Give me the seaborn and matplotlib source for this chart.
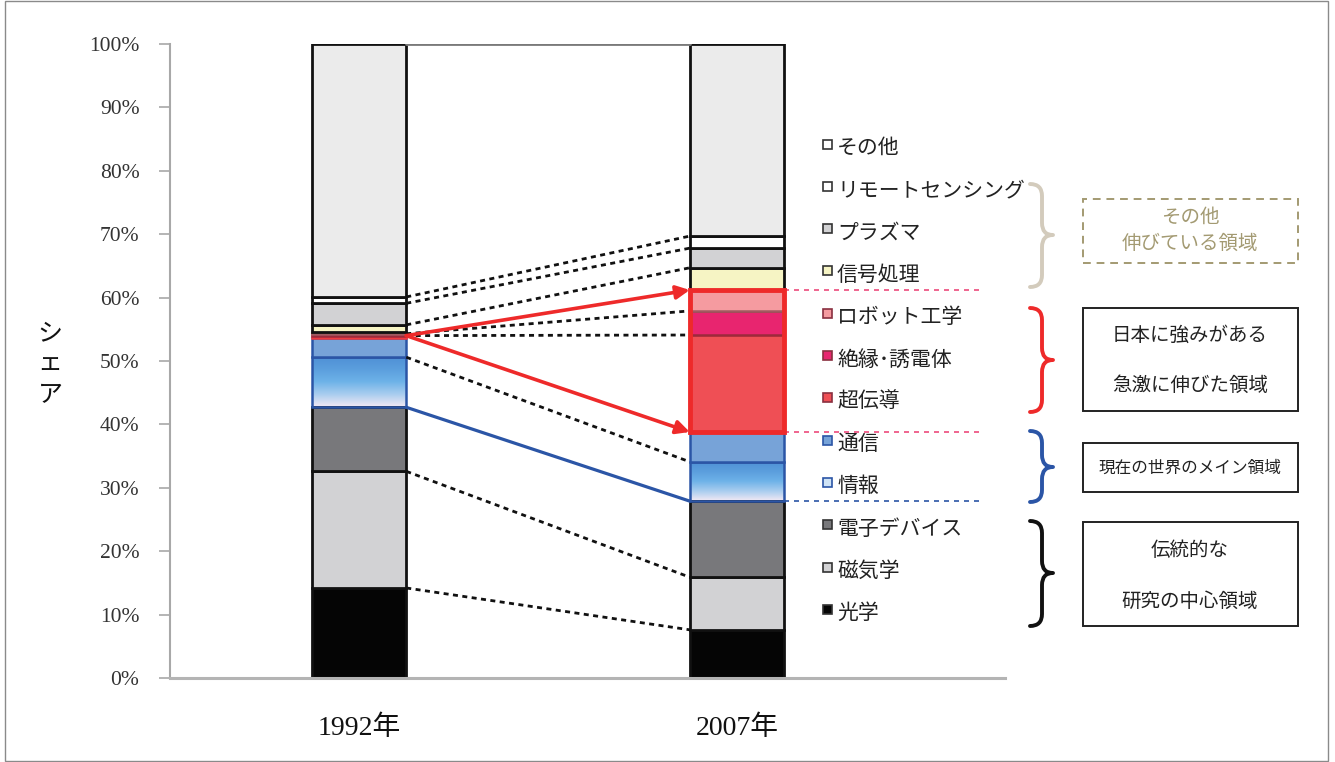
import numpy as np
import pandas as pd
import matplotlib
matplotlib.use("Agg")
import matplotlib.pyplot as plt
import seaborn as sns
from matplotlib.patches import Rectangle, PathPatch
from matplotlib.path import Path
from matplotlib.colors import LinearSegmentedColormap

# ---- data ---------------------------------------------------------------
years = ["1992年", "2007年"]
fields = ["光学", "磁気学", "電子デバイス", "情報", "通信", "超伝導",
          "絶縁･誘電体", "ロボット工学", "信号処理", "プラズマ",
          "リモートセンシング", "その他"]
share_1992 = [14.2, 18.4, 10.1, 7.9, 3.0, 0.4, 0.3, 0.2, 1.2, 3.4, 1.0, 39.9]
share_2007 = [7.6, 8.3, 12.0, 6.2, 4.7, 15.3, 3.8, 3.3, 3.5, 3.1, 1.9, 30.3]
y_ticks = [0, 10, 20, 30, 40, 50, 60, 70, 80, 90, 100]

# dotted connectors between the two bars (segment tops)
dotted_links = ["光学", "磁気学", "情報", "超伝導", "絶縁･誘電体",
                "信号処理", "プラズマ", "リモートセンシング"]

face = {"光学": "#050505", "磁気学": "#d2d2d4", "電子デバイス": "#78787b",
        "情報": "#6aaee4", "通信": "#77a3d8", "超伝導": "#ef4f55",
        "絶縁･誘電体": "#e8256f", "ロボット工学": "#f59ba0",
        "信号処理": "#f6f4c4", "プラズマ": "#d2d2d4",
        "リモートセンシング": "#ffffff", "その他": "#ebebeb"}
edge = {"光学": "#111111", "磁気学": "#111111", "電子デバイス": "#111111",
        "情報": "#2b55a6", "通信": "#2b55a6", "超伝導": "#ef3a40",
        "絶縁･誘電体": "#9c2a3c", "ロボット工学": "#a05a60",
        "信号処理": "#111111", "プラズマ": "#111111",
        "リモートセンシング": "#111111", "その他": "#111111"}
legend_face = dict(face, **{"情報": "#cfe3f5", "その他": "#ffffff"})
legend_edge = {f: ("#2b55a6" if f in ("情報", "通信") else
                   "#8a3040" if f in ("絶縁･誘電体", "ロボット工学", "超伝導") else
                   "#333333") for f in fields}

# long table with stacked bases
rows = []
base = {y: 0.0 for y in years}
for i, f in enumerate(fields):
    for y, vals in zip(years, [share_1992, share_2007]):
        rows.append({"year": y, "field": f, "share": vals[i], "base": base[y]})
        base[y] += vals[i]
df = pd.DataFrame(rows)
top = {(r.year, r.field): r.base + r.share for r in df.itertuples()}
bot = {(r.year, r.field): r.base for r in df.itertuples()}

# ---- figure -------------------------------------------------------------
sns.set_theme(style="white")
plt.rcParams["font.family"] = ["Noto Sans CJK JP", "DejaVu Sans"]
W, H = 1335, 762
fig = plt.figure(figsize=(W / 100, H / 100), dpi=100)
ax = fig.add_axes([170 / W, 84 / H, 835 / W, 634 / H])

BW = 0.25
grad_cmap = LinearSegmentedColormap.from_list(
    "info", ["#f3e9f4", "#a9cdef", "#6db2e8", "#5b9edd", "#4e8fd5"])

for f in fields:
    sub = df[df.field == f]
    fc = "none" if f == "情報" else face[f]
    lw = 2.0 if edge[f] == "#111111" else 1.8
    sns.barplot(data=sub, x="year", y="share", order=years,
                bottom=sub["base"].to_numpy(), color=face[f],
                facecolor=fc, edgecolor=edge[f], linewidth=lw,
                saturation=1, width=BW, errorbar=None, ax=ax)
    if f == "情報":
        for p in ax.patches[-2:]:
            x0, y0 = p.get_x(), p.get_y()
            im = ax.imshow(np.linspace(1, 0, 256)[:, None], cmap=grad_cmap,
                           extent=(x0, x0 + p.get_width(), y0, y0 + p.get_height()),
                           origin="upper", aspect="auto", zorder=0.9,
                           interpolation="bilinear")
            im.set_clip_path(p)

xa, xb = 0 + BW / 2, 1 - BW / 2
ya, yb = years

# frame around the rapidly growing (red) group in 2007
r_lo = bot[(yb, "超伝導")]
r_hi = top[(yb, "ロボット工学")]
ax.add_patch(Rectangle((1 - BW / 2, r_lo), BW, r_hi - r_lo, fill=False,
                       edgecolor="#ee2a2a", linewidth=3.5, zorder=3))

# dotted links
for f in dotted_links:
    ax.plot([xa, xb], [top[(ya, f)], top[(yb, f)]], color="#111111",
            linewidth=2.0, linestyle=(0, (1.8, 1.6)), zorder=2)

# blue link for the info group base
ax.plot([xa, xb], [top[(ya, "電子デバイス")], top[(yb, "電子デバイス")]],
        color="#2b55a6", linewidth=2.3, zorder=2)
# top link
ax.plot([xa, xb], [top[(ya, "その他")], top[(yb, "その他")]],
        color="#7a7a7a", linewidth=2.0, zorder=2)

# red arrows
for yt in [r_hi, r_lo]:
    ax.annotate("", xy=(xb, yt), xytext=(xa, top[(ya, "超伝導")]),
                arrowprops=dict(arrowstyle="-|>", color="#ee2a2a", lw=2.6,
                                mutation_scale=20, shrinkA=0, shrinkB=0),
                zorder=4)

# dashed guides to the right of the 2007 bar
x_right = 1.709
for yv, col in [(r_hi, "#ec4a7c"), (r_lo, "#ec4a7c"),
                (top[(yb, "電子デバイス")], "#2b55a6")]:
    ax.plot([1 + BW / 2, x_right - 0.06], [yv, yv], color=col, linewidth=1.2,
            linestyle=(0, (3, 3)), zorder=2)

# axes styling
ax.set_xlim(-0.5, x_right)
ax.set_ylim(0, 100)
ax.set_yticks(y_ticks)
ax.set_yticklabels([f"{v}%" for v in y_ticks], family=["Liberation Serif"],
                   fontsize=15.5, color="#333333")
ax.set_xticks([0, 1])
ax.set_xticklabels(years, family=["Liberation Serif", "Noto Sans CJK JP"],
                   fontsize=20, color="#111111")
ax.tick_params(axis="y", direction="out", length=8, width=1.2,
               color="#a8a8a8", pad=14, left=True)
ax.tick_params(axis="x", length=0, pad=27)
ax.set_xlabel("")
ax.set_ylabel("")
for s in ["top", "right"]:
    ax.spines[s].set_visible(False)
ax.spines["left"].set_color("#a8a8a8")
ax.spines["left"].set_linewidth(1.5)
ax.spines["bottom"].set_color("#b4b4b4")
ax.spines["bottom"].set_linewidth(2.2)
ax.grid(False)
ax.set_facecolor("white")

# vertical y label
fig.text(50 / W, 1 - 364 / H, "シ\nェ\nア", ha="center", va="center",
         fontsize=18, linespacing=1.25, color="#111111")


def fx(px):
    return px / W


def fy(py):
    return 1 - py / H


# legend column
legend_rows = fields[::-1]
for k, f in enumerate(legend_rows):
    yc = 148 + k * 42.3
    fig.add_artist(Rectangle((fx(823), fy(yc - 4 + 4.5)), 9 / W, 9 / H,
                             transform=fig.transFigure,
                             facecolor=legend_face[f], edgecolor=legend_edge[f],
                             linewidth=1.2))
    fig.text(fx(837), fy(yc), f, ha="left", va="center", fontsize=15,
             color="#222222")


# curly braces
def brace(y_t, y_b, y_mid, color):
    x0, xm, xt, r = 1030, 1042, 1053, 12
    pts = [(x0, y_t), (xm, y_t), (xm, y_t + r), (xm, y_mid - r),
           (xm, y_mid), (xt, y_mid), (xm, y_mid), (xm, y_mid + r),
           (xm, y_b - r), (xm, y_b), (x0, y_b)]
    codes = [Path.MOVETO, Path.CURVE3, Path.CURVE3, Path.LINETO,
             Path.CURVE3, Path.CURVE3, Path.CURVE3, Path.CURVE3,
             Path.LINETO, Path.CURVE3, Path.CURVE3]
    verts = [(fx(a), fy(b)) for a, b in pts]
    fig.add_artist(PathPatch(Path(verts, codes), transform=fig.transFigure,
                             fill=False, edgecolor=color, linewidth=2.8,
                             capstyle="round", joinstyle="round"))


brace(184, 287, 235, "#d3cbbc")
brace(308, 412, 360, "#ee2a2a")
brace(431, 502, 467, "#2b55a6")
brace(521, 626, 573, "#111111")


# annotation boxes
def box(y_t, y_b, lines, color, fs, dashed=False):
    fig.add_artist(Rectangle((fx(1083), fy(y_b)), 215 / W, (y_b - y_t) / H,
                             transform=fig.transFigure, fill=False,
                             edgecolor=color if dashed else "#222222",
                             linewidth=1.4,
                             linestyle=(0, (4, 3)) if dashed else "-"))
    for txt, yy in lines:
        fig.text(fx(1190), fy(yy), txt, ha="center", va="center",
                 fontsize=fs, color=color)


box(199, 263, [("その他", 217), ("伸びている領域", 243)], "#a39a72", 14, dashed=True)
box(308, 411, [("日本に強みがある", 335), ("急激に伸びた領域", 385)], "#222222", 14)
box(443, 492, [("現在の世界のメイン領域", 468)], "#222222", 12)
box(522, 626, [("伝統的な", 550), ("研究の中心領域", 601)], "#222222", 14)

# outer frame
fig.add_artist(Rectangle((fx(5), fy(761)), 1323 / W, 760 / H,
                         transform=fig.transFigure, fill=False,
                         edgecolor="#8a8a8a", linewidth=1.0))

fig.savefig("out.png", dpi=100, facecolor="white")
